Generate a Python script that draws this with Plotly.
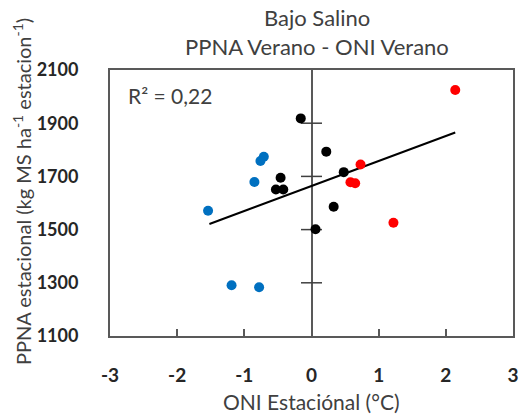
import numpy as np
import plotly.graph_objects as go

# Data
oni_red = [2.14, 0.73, 0.58, 0.65, 1.22]
ppna_red = [2025, 1745, 1678, 1674, 1526]
oni_black = [-0.16, 0.22, 0.48, -0.46, -0.53, -0.42, 0.33, 0.06]
ppna_black = [1918, 1793, 1716, 1695, 1651, 1651, 1586, 1501]
oni_blue = [-0.71, -0.76, -0.85, -1.54, -1.19, -0.78]
ppna_blue = [1774, 1758, 1679, 1571, 1291, 1283]

trend_x = [-1.52, 2.14]
trend_y = [1521, 1865]

zero_ticks_y = [1300, 1500, 1700, 1900]
x_ticks = [-3, -2, -1, 0, 1, 2, 3]
y_ticks = [1100, 1300, 1500, 1700, 1900, 2100]

FONT = "Lato, Open Sans, sans-serif"
W, H = 520, 416
L, T = 110, 70
R = W - 513
B = H - 336
PW, PH = W - L - R, H - T - B


def px_x(px):
    return (px - L) / PW


def px_y(py):
    return (H - B - py) / PH


fig = go.Figure()
fig.add_trace(go.Scatter(x=[0]*len(zero_ticks_y), y=zero_ticks_y, mode="markers",
                         marker=dict(symbol="line-ew", size=15, line=dict(color="#404040", width=1.5)),
                         hoverinfo="skip", showlegend=False))
fig.add_trace(go.Scatter(x=trend_x, y=trend_y, mode="lines",
                         line=dict(color="#000000", width=2), showlegend=False))
for xs, ys, c in [(oni_blue, ppna_blue, "#0070C0"), (oni_black, ppna_black, "#000000"),
                  (oni_red, ppna_red, "#FF0000")]:
    fig.add_trace(go.Scatter(x=xs, y=ys, mode="markers",
                             marker=dict(color=c, size=10, line=dict(width=0)), showlegend=False))

fig.update_layout(
    width=W, height=H,
    margin=dict(l=L, r=R, t=T, b=B),
    paper_bgcolor="white", plot_bgcolor="white",
    hovermode=False,
    font=dict(family=FONT, color="#404040"),
    annotations=[
        dict(text="Bajo Salino", xref="paper", yref="paper", x=px_x(317), y=px_y(18),
             xanchor="center", yanchor="middle", showarrow=False,
             font=dict(size=22, color="#404040")),
        dict(text="PPNA Verano - ONI Verano", xref="paper", yref="paper", x=px_x(317),
             y=px_y(46), xanchor="center", yanchor="middle", showarrow=False,
             font=dict(size=22, color="#404040")),
        dict(text="R² = 0,22", xref="paper", yref="paper", x=px_x(126), y=px_y(95),
             xanchor="left", yanchor="middle", showarrow=False,
             font=dict(size=21, color="#404040")),
        dict(text="ONI Estaciónal (°C)", xref="paper", yref="paper", x=px_x(311), y=px_y(401),
             xanchor="center", yanchor="middle", showarrow=False,
             font=dict(size=21, color="#404040")),
        dict(text="PPNA estacional (kg MS ha<sup>-1</sup> estacion<sup>-1</sup>)",
             xref="paper", yref="paper", x=px_x(22), y=px_y(192), textangle=-90,
             xanchor="center", yanchor="middle", showarrow=False,
             font=dict(size=20, color="#404040")),
    ],
)

fig.update_xaxes(range=[-3, 3], tickvals=x_ticks, ticktext=[str(v) for v in x_ticks],
                 automargin=False,
                 showgrid=False, zeroline=True, zerolinecolor="#595959", zerolinewidth=2,
                 showline=True, linecolor="#595959", linewidth=2, mirror=True,
                 ticks="inside", ticklen=7, tickwidth=1.5, tickcolor="#595959",
                 ticklabelstandoff=21,
                 tickfont=dict(size=19, color="#262626", family=FONT, weight="bold"))
fig.update_yaxes(range=[1100, 2100], tickvals=y_ticks, ticktext=[str(v) for v in y_ticks],
                 automargin=False,
                 showgrid=False, zeroline=False,
                 showline=True, linecolor="#595959", linewidth=2, mirror=True,
                 ticks="", ticklabelstandoff=26,
                 tickfont=dict(size=18, color="#262626", family=FONT, weight="bold"))

fig.write_html("out.html", config={"displayModeBar": False},
               post_script="document.body.style.margin='0';document.body.style.overflow='hidden';")
